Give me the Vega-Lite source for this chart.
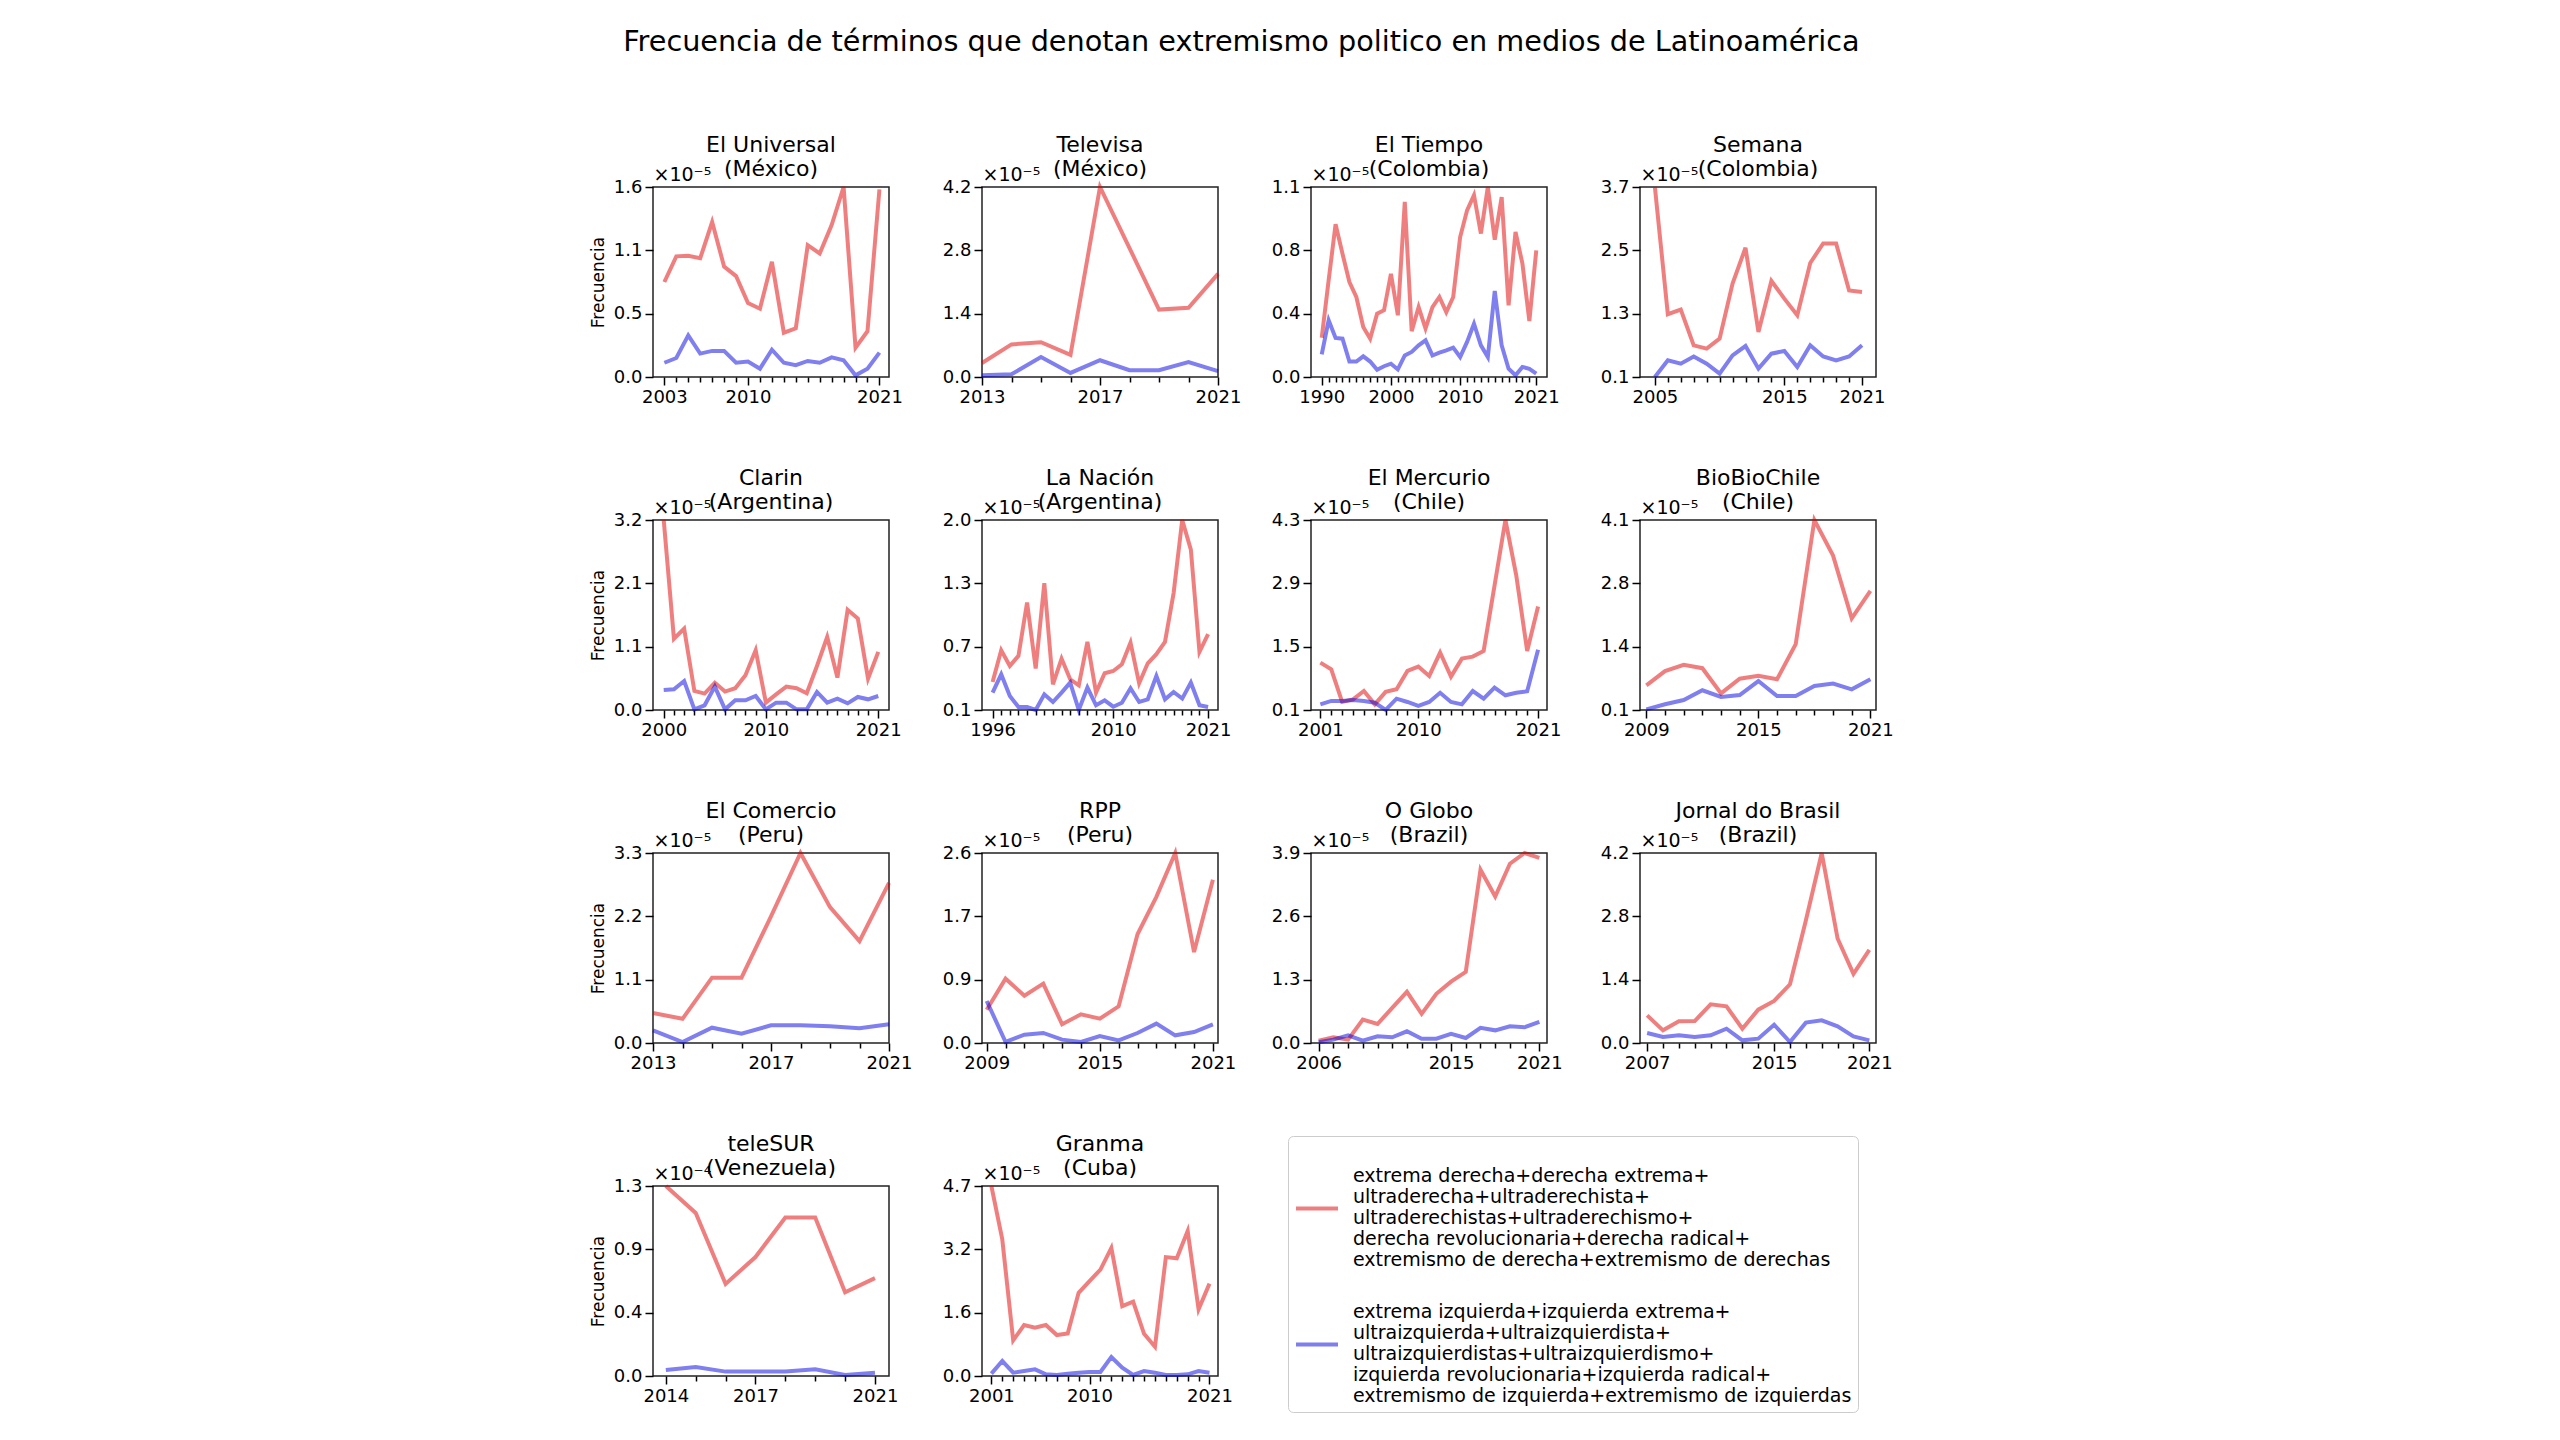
{
"$schema": "https://vega.github.io/schema/vega-lite/v6.json",
"padding": {"left": 588, "top": 27, "right": 0, "bottom": 0},
"title": {"text": "Frecuencia de términos que denotan extremismo politico en medios de Latinoamérica", "fontSize": 28.7, "fontWeight": "normal", "anchor": "middle", "offset": 77, "dx": 0},
"bounds": "flush",
"columns": 4,
"spacing": {"row": 143, "column": 93},
"datasets": {
"eu": [
{"serie":"derecha","anio":2003,"valor":0.80},{"serie":"derecha","anio":2004,"valor":1.016},{"serie":"derecha","anio":2005,"valor":1.02},{"serie":"derecha","anio":2006,"valor":1.00},{"serie":"derecha","anio":2007,"valor":1.305},{"serie":"derecha","anio":2008,"valor":0.93},{"serie":"derecha","anio":2009,"valor":0.85},{"serie":"derecha","anio":2010,"valor":0.623},{"serie":"derecha","anio":2011,"valor":0.575},{"serie":"derecha","anio":2012,"valor":0.97},{"serie":"derecha","anio":2013,"valor":0.373},{"serie":"derecha","anio":2014,"valor":0.41},{"serie":"derecha","anio":2015,"valor":1.11},{"serie":"derecha","anio":2016,"valor":1.04},{"serie":"derecha","anio":2017,"valor":1.28},{"serie":"derecha","anio":2018,"valor":1.6},{"serie":"derecha","anio":2019,"valor":0.247},{"serie":"derecha","anio":2020,"valor":0.385},{"serie":"derecha","anio":2021,"valor":1.58},
{"serie":"izquierda","anio":2003,"valor":0.12},{"serie":"izquierda","anio":2004,"valor":0.16},{"serie":"izquierda","anio":2005,"valor":0.35},{"serie":"izquierda","anio":2006,"valor":0.197},{"serie":"izquierda","anio":2007,"valor":0.22},{"serie":"izquierda","anio":2008,"valor":0.22},{"serie":"izquierda","anio":2009,"valor":0.12},{"serie":"izquierda","anio":2010,"valor":0.13},{"serie":"izquierda","anio":2011,"valor":0.07},{"serie":"izquierda","anio":2012,"valor":0.23},{"serie":"izquierda","anio":2013,"valor":0.12},{"serie":"izquierda","anio":2014,"valor":0.10},{"serie":"izquierda","anio":2015,"valor":0.135},{"serie":"izquierda","anio":2016,"valor":0.12},{"serie":"izquierda","anio":2017,"valor":0.165},{"serie":"izquierda","anio":2018,"valor":0.14},{"serie":"izquierda","anio":2019,"valor":0.014},{"serie":"izquierda","anio":2020,"valor":0.07},{"serie":"izquierda","anio":2021,"valor":0.205}
],
"tv": [
{"serie":"derecha","anio":2013,"valor":0.31},{"serie":"derecha","anio":2014,"valor":0.72},{"serie":"derecha","anio":2015,"valor":0.77},{"serie":"derecha","anio":2016,"valor":0.49},{"serie":"derecha","anio":2017,"valor":4.2},{"serie":"derecha","anio":2018,"valor":2.85},{"serie":"derecha","anio":2019,"valor":1.49},{"serie":"derecha","anio":2020,"valor":1.53},{"serie":"derecha","anio":2021,"valor":2.28},
{"serie":"izquierda","anio":2013,"valor":0.04},{"serie":"izquierda","anio":2014,"valor":0.06},{"serie":"izquierda","anio":2015,"valor":0.44},{"serie":"izquierda","anio":2016,"valor":0.09},{"serie":"izquierda","anio":2017,"valor":0.37},{"serie":"izquierda","anio":2018,"valor":0.15},{"serie":"izquierda","anio":2019,"valor":0.15},{"serie":"izquierda","anio":2020,"valor":0.33},{"serie":"izquierda","anio":2021,"valor":0.13}
],
"et": [
{"serie":"derecha","anio":1990,"valor":0.234},{"serie":"derecha","anio":1991,"valor":0.575},{"serie":"derecha","anio":1992,"valor":0.908},{"serie":"derecha","anio":1993,"valor":0.733},{"serie":"derecha","anio":1994,"valor":0.565},{"serie":"derecha","anio":1995,"valor":0.476},{"serie":"derecha","anio":1996,"valor":0.298},{"serie":"derecha","anio":1997,"valor":0.228},{"serie":"derecha","anio":1998,"valor":0.377},{"serie":"derecha","anio":1999,"valor":0.397},{"serie":"derecha","anio":2000,"valor":0.614},{"serie":"derecha","anio":2001,"valor":0.367},{"serie":"derecha","anio":2002,"valor":1.041},{"serie":"derecha","anio":2003,"valor":0.273},{"serie":"derecha","anio":2004,"valor":0.416},{"serie":"derecha","anio":2005,"valor":0.288},{"serie":"derecha","anio":2006,"valor":0.416},{"serie":"derecha","anio":2007,"valor":0.476},{"serie":"derecha","anio":2008,"valor":0.386},{"serie":"derecha","anio":2009,"valor":0.476},{"serie":"derecha","anio":2010,"valor":0.832},{"serie":"derecha","anio":2011,"valor":0.991},{"serie":"derecha","anio":2012,"valor":1.081},{"serie":"derecha","anio":2013,"valor":0.853},{"serie":"derecha","anio":2014,"valor":1.13},{"serie":"derecha","anio":2015,"valor":0.817},{"serie":"derecha","anio":2016,"valor":1.07},{"serie":"derecha","anio":2017,"valor":0.426},{"serie":"derecha","anio":2018,"valor":0.863},{"serie":"derecha","anio":2019,"valor":0.674},{"serie":"derecha","anio":2020,"valor":0.333},{"serie":"derecha","anio":2021,"valor":0.753},
{"serie":"izquierda","anio":1990,"valor":0.135},{"serie":"izquierda","anio":1991,"valor":0.337},{"serie":"izquierda","anio":1992,"valor":0.232},{"serie":"izquierda","anio":1993,"valor":0.228},{"serie":"izquierda","anio":1994,"valor":0.092},{"serie":"izquierda","anio":1995,"valor":0.092},{"serie":"izquierda","anio":1996,"valor":0.123},{"serie":"izquierda","anio":1997,"valor":0.092},{"serie":"izquierda","anio":1998,"valor":0.043},{"serie":"izquierda","anio":1999,"valor":0.064},{"serie":"izquierda","anio":2000,"valor":0.079},{"serie":"izquierda","anio":2001,"valor":0.045},{"serie":"izquierda","anio":2002,"valor":0.128},{"serie":"izquierda","anio":2003,"valor":0.149},{"serie":"izquierda","anio":2004,"valor":0.188},{"serie":"izquierda","anio":2005,"valor":0.218},{"serie":"izquierda","anio":2006,"valor":0.128},{"serie":"izquierda","anio":2007,"valor":0.145},{"serie":"izquierda","anio":2008,"valor":0.158},{"serie":"izquierda","anio":2009,"valor":0.175},{"serie":"izquierda","anio":2010,"valor":0.119},{"serie":"izquierda","anio":2011,"valor":0.209},{"serie":"izquierda","anio":2012,"valor":0.317},{"serie":"izquierda","anio":2013,"valor":0.188},{"serie":"izquierda","anio":2014,"valor":0.119},{"serie":"izquierda","anio":2015,"valor":0.512},{"serie":"izquierda","anio":2016,"valor":0.188},{"serie":"izquierda","anio":2017,"valor":0.049},{"serie":"izquierda","anio":2018,"valor":0.01},{"serie":"izquierda","anio":2019,"valor":0.06},{"serie":"izquierda","anio":2020,"valor":0.049},{"serie":"izquierda","anio":2021,"valor":0.02}
],
"se": [
{"serie":"derecha","anio":2005,"valor":3.7},{"serie":"derecha","anio":2006,"valor":1.29},{"serie":"derecha","anio":2007,"valor":1.376},{"serie":"derecha","anio":2008,"valor":0.70},{"serie":"derecha","anio":2009,"valor":0.637},{"serie":"derecha","anio":2010,"valor":0.826},{"serie":"derecha","anio":2011,"valor":1.87},{"serie":"derecha","anio":2012,"valor":2.55},{"serie":"derecha","anio":2013,"valor":0.953},{"serie":"derecha","anio":2014,"valor":1.92},{"serie":"derecha","anio":2015,"valor":1.585},{"serie":"derecha","anio":2016,"valor":1.27},{"serie":"derecha","anio":2017,"valor":2.26},{"serie":"derecha","anio":2018,"valor":2.63},{"serie":"derecha","anio":2019,"valor":2.63},{"serie":"derecha","anio":2020,"valor":1.74},{"serie":"derecha","anio":2021,"valor":1.71},
{"serie":"izquierda","anio":2005,"valor":0.1},{"serie":"izquierda","anio":2006,"valor":0.416},{"serie":"izquierda","anio":2007,"valor":0.353},{"serie":"izquierda","anio":2008,"valor":0.49},{"serie":"izquierda","anio":2009,"valor":0.353},{"serie":"izquierda","anio":2010,"valor":0.163},{"serie":"izquierda","anio":2011,"valor":0.51},{"serie":"izquierda","anio":2012,"valor":0.687},{"serie":"izquierda","anio":2013,"valor":0.258},{"serie":"izquierda","anio":2014,"valor":0.542},{"serie":"izquierda","anio":2015,"valor":0.593},{"serie":"izquierda","anio":2016,"valor":0.29},{"serie":"izquierda","anio":2017,"valor":0.70},{"serie":"izquierda","anio":2018,"valor":0.49},{"serie":"izquierda","anio":2019,"valor":0.416},{"serie":"izquierda","anio":2020,"valor":0.49},{"serie":"izquierda","anio":2021,"valor":0.70}
],
"cl": [
{"serie":"derecha","anio":2000,"valor":3.2},{"serie":"derecha","anio":2001,"valor":1.20},{"serie":"derecha","anio":2002,"valor":1.37},{"serie":"derecha","anio":2003,"valor":0.32},{"serie":"derecha","anio":2004,"valor":0.276},{"serie":"derecha","anio":2005,"valor":0.46},{"serie":"derecha","anio":2006,"valor":0.31},{"serie":"derecha","anio":2007,"valor":0.366},{"serie":"derecha","anio":2008,"valor":0.585},{"serie":"derecha","anio":2009,"valor":1.007},{"serie":"derecha","anio":2010,"valor":0.124},{"serie":"derecha","anio":2011,"valor":0.264},{"serie":"derecha","anio":2012,"valor":0.394},{"serie":"derecha","anio":2013,"valor":0.366},{"serie":"derecha","anio":2014,"valor":0.281},{"serie":"derecha","anio":2015,"valor":0.742},{"serie":"derecha","anio":2016,"valor":1.23},{"serie":"derecha","anio":2017,"valor":0.546},{"serie":"derecha","anio":2018,"valor":1.687},{"serie":"derecha","anio":2019,"valor":1.54},{"serie":"derecha","anio":2020,"valor":0.529},{"serie":"derecha","anio":2021,"valor":0.979},
{"serie":"izquierda","anio":2000,"valor":0.337},{"serie":"izquierda","anio":2001,"valor":0.349},{"serie":"izquierda","anio":2002,"valor":0.489},{"serie":"izquierda","anio":2003,"valor":0.011},{"serie":"izquierda","anio":2004,"valor":0.079},{"serie":"izquierda","anio":2005,"valor":0.394},{"serie":"izquierda","anio":2006,"valor":0.011},{"serie":"izquierda","anio":2007,"valor":0.163},{"serie":"izquierda","anio":2008,"valor":0.163},{"serie":"izquierda","anio":2009,"valor":0.236},{"serie":"izquierda","anio":2010,"valor":0.011},{"serie":"izquierda","anio":2011,"valor":0.124},{"serie":"izquierda","anio":2012,"valor":0.124},{"serie":"izquierda","anio":2013,"valor":0.011},{"serie":"izquierda","anio":2014,"valor":0.011},{"serie":"izquierda","anio":2015,"valor":0.304},{"serie":"izquierda","anio":2016,"valor":0.124},{"serie":"izquierda","anio":2017,"valor":0.191},{"serie":"izquierda","anio":2018,"valor":0.112},{"serie":"izquierda","anio":2019,"valor":0.219},{"serie":"izquierda","anio":2020,"valor":0.18},{"serie":"izquierda","anio":2021,"valor":0.236}
],
"ln": [
{"serie":"derecha","anio":1996,"valor":0.36},{"serie":"derecha","anio":1997,"valor":0.678},{"serie":"derecha","anio":1998,"valor":0.521},{"serie":"derecha","anio":1999,"valor":0.621},{"serie":"derecha","anio":2000,"valor":1.155},{"serie":"derecha","anio":2001,"valor":0.494},{"serie":"derecha","anio":2002,"valor":1.349},{"serie":"derecha","anio":2003,"valor":0.337},{"serie":"derecha","anio":2004,"valor":0.594},{"serie":"derecha","anio":2005,"valor":0.387},{"serie":"derecha","anio":2006,"valor":0.327},{"serie":"derecha","anio":2007,"valor":0.761},{"serie":"derecha","anio":2008,"valor":0.254},{"serie":"derecha","anio":2009,"valor":0.447},{"serie":"derecha","anio":2010,"valor":0.47},{"serie":"derecha","anio":2011,"valor":0.537},{"serie":"derecha","anio":2012,"valor":0.754},{"serie":"derecha","anio":2013,"valor":0.347},{"serie":"derecha","anio":2014,"valor":0.547},{"serie":"derecha","anio":2015,"valor":0.638},{"serie":"derecha","anio":2016,"valor":0.761},{"serie":"derecha","anio":2017,"valor":1.249},{"serie":"derecha","anio":2018,"valor":1.98},{"serie":"derecha","anio":2019,"valor":1.683},{"serie":"derecha","anio":2020,"valor":0.661},{"serie":"derecha","anio":2021,"valor":0.838},
{"serie":"izquierda","anio":1996,"valor":0.254},{"serie":"izquierda","anio":1997,"valor":0.437},{"serie":"izquierda","anio":1998,"valor":0.22},{"serie":"izquierda","anio":1999,"valor":0.11},{"serie":"izquierda","anio":2000,"valor":0.11},{"serie":"izquierda","anio":2001,"valor":0.08},{"serie":"izquierda","anio":2002,"valor":0.237},{"serie":"izquierda","anio":2003,"valor":0.16},{"serie":"izquierda","anio":2004,"valor":0.254},{"serie":"izquierda","anio":2005,"valor":0.354},{"serie":"izquierda","anio":2006,"valor":0.08},{"serie":"izquierda","anio":2007,"valor":0.304},{"serie":"izquierda","anio":2008,"valor":0.127},{"serie":"izquierda","anio":2009,"valor":0.177},{"serie":"izquierda","anio":2010,"valor":0.113},{"serie":"izquierda","anio":2011,"valor":0.153},{"serie":"izquierda","anio":2012,"valor":0.297},{"serie":"izquierda","anio":2013,"valor":0.16},{"serie":"izquierda","anio":2014,"valor":0.187},{"serie":"izquierda","anio":2015,"valor":0.42},{"serie":"izquierda","anio":2016,"valor":0.187},{"serie":"izquierda","anio":2017,"valor":0.26},{"serie":"izquierda","anio":2018,"valor":0.194},{"serie":"izquierda","anio":2019,"valor":0.354},{"serie":"izquierda","anio":2020,"valor":0.127},{"serie":"izquierda","anio":2021,"valor":0.11}
],
"em": [
{"serie":"derecha","anio":2001,"valor":1.148},{"serie":"derecha","anio":2002,"valor":1.0},{"serie":"derecha","anio":2003,"valor":0.277},{"serie":"derecha","anio":2004,"valor":0.336},{"serie":"derecha","anio":2005,"valor":0.52},{"serie":"derecha","anio":2006,"valor":0.225},{"serie":"derecha","anio":2007,"valor":0.5},{"serie":"derecha","anio":2008,"valor":0.558},{"serie":"derecha","anio":2009,"valor":0.963},{"serie":"derecha","anio":2010,"valor":1.06},{"serie":"derecha","anio":2011,"valor":0.853},{"serie":"derecha","anio":2012,"valor":1.37},{"serie":"derecha","anio":2013,"valor":0.838},{"serie":"derecha","anio":2014,"valor":1.236},{"serie":"derecha","anio":2015,"valor":1.28},{"serie":"derecha","anio":2016,"valor":1.406},{"serie":"derecha","anio":2017,"valor":2.85},{"serie":"derecha","anio":2018,"valor":4.3},{"serie":"derecha","anio":2019,"valor":3.07},{"serie":"derecha","anio":2020,"valor":1.406},{"serie":"derecha","anio":2021,"valor":2.39},
{"serie":"izquierda","anio":2001,"valor":0.225},{"serie":"izquierda","anio":2002,"valor":0.3},{"serie":"izquierda","anio":2003,"valor":0.3},{"serie":"izquierda","anio":2004,"valor":0.32},{"serie":"izquierda","anio":2005,"valor":0.3},{"serie":"izquierda","anio":2006,"valor":0.26},{"serie":"izquierda","anio":2007,"valor":0.1},{"serie":"izquierda","anio":2008,"valor":0.35},{"serie":"izquierda","anio":2009,"valor":0.277},{"serie":"izquierda","anio":2010,"valor":0.19},{"serie":"izquierda","anio":2011,"valor":0.277},{"serie":"izquierda","anio":2012,"valor":0.48},{"serie":"izquierda","anio":2013,"valor":0.277},{"serie":"izquierda","anio":2014,"valor":0.225},{"serie":"izquierda","anio":2015,"valor":0.52},{"serie":"izquierda","anio":2016,"valor":0.35},{"serie":"izquierda","anio":2017,"valor":0.594},{"serie":"izquierda","anio":2018,"valor":0.425},{"serie":"izquierda","anio":2019,"valor":0.48},{"serie":"izquierda","anio":2020,"valor":0.513},{"serie":"izquierda","anio":2021,"valor":1.43}
],
"bb": [
{"serie":"derecha","anio":2009,"valor":0.62},{"serie":"derecha","anio":2010,"valor":0.92},{"serie":"derecha","anio":2011,"valor":1.05},{"serie":"derecha","anio":2012,"valor":0.98},{"serie":"derecha","anio":2013,"valor":0.45},{"serie":"derecha","anio":2014,"valor":0.76},{"serie":"derecha","anio":2015,"valor":0.82},{"serie":"derecha","anio":2016,"valor":0.747},{"serie":"derecha","anio":2017,"valor":1.485},{"serie":"derecha","anio":2018,"valor":4.1},{"serie":"derecha","anio":2019,"valor":3.35},{"serie":"derecha","anio":2020,"valor":2.03},{"serie":"derecha","anio":2021,"valor":2.61},
{"serie":"izquierda","anio":2009,"valor":0.114},{"serie":"izquierda","anio":2010,"valor":0.22},{"serie":"izquierda","anio":2011,"valor":0.31},{"serie":"izquierda","anio":2012,"valor":0.515},{"serie":"izquierda","anio":2013,"valor":0.374},{"serie":"izquierda","anio":2014,"valor":0.416},{"serie":"izquierda","anio":2015,"valor":0.71},{"serie":"izquierda","anio":2016,"valor":0.395},{"serie":"izquierda","anio":2017,"valor":0.395},{"serie":"izquierda","anio":2018,"valor":0.606},{"serie":"izquierda","anio":2019,"valor":0.655},{"serie":"izquierda","anio":2020,"valor":0.536},{"serie":"izquierda","anio":2021,"valor":0.747}
],
"ec": [
{"serie":"derecha","anio":2013,"valor":0.52},{"serie":"derecha","anio":2014,"valor":0.42},{"serie":"derecha","anio":2015,"valor":1.135},{"serie":"derecha","anio":2016,"valor":1.135},{"serie":"derecha","anio":2017,"valor":2.2},{"serie":"derecha","anio":2018,"valor":3.3},{"serie":"derecha","anio":2019,"valor":2.36},{"serie":"derecha","anio":2020,"valor":1.77},{"serie":"derecha","anio":2021,"valor":2.78},
{"serie":"izquierda","anio":2013,"valor":0.22},{"serie":"izquierda","anio":2014,"valor":0.017},{"serie":"izquierda","anio":2015,"valor":0.266},{"serie":"izquierda","anio":2016,"valor":0.162},{"serie":"izquierda","anio":2017,"valor":0.307},{"serie":"izquierda","anio":2018,"valor":0.307},{"serie":"izquierda","anio":2019,"valor":0.29},{"serie":"izquierda","anio":2020,"valor":0.255},{"serie":"izquierda","anio":2021,"valor":0.324}
],
"rpp": [
{"serie":"derecha","anio":2009,"valor":0.456},{"serie":"derecha","anio":2010,"valor":0.88},{"serie":"derecha","anio":2011,"valor":0.648},{"serie":"derecha","anio":2012,"valor":0.812},{"serie":"derecha","anio":2013,"valor":0.255},{"serie":"derecha","anio":2014,"valor":0.392},{"serie":"derecha","anio":2015,"valor":0.333},{"serie":"derecha","anio":2016,"valor":0.502},{"serie":"derecha","anio":2017,"valor":1.487},{"serie":"derecha","anio":2018,"valor":2.0},{"serie":"derecha","anio":2019,"valor":2.6},{"serie":"derecha","anio":2020,"valor":1.245},{"serie":"derecha","anio":2021,"valor":2.235},
{"serie":"izquierda","anio":2009,"valor":0.575},{"serie":"izquierda","anio":2010,"valor":0.014},{"serie":"izquierda","anio":2011,"valor":0.114},{"serie":"izquierda","anio":2012,"valor":0.137},{"serie":"izquierda","anio":2013,"valor":0.046},{"serie":"izquierda","anio":2014,"valor":0.014},{"serie":"izquierda","anio":2015,"valor":0.096},{"serie":"izquierda","anio":2016,"valor":0.036},{"serie":"izquierda","anio":2017,"valor":0.137},{"serie":"izquierda","anio":2018,"valor":0.265},{"serie":"izquierda","anio":2019,"valor":0.105},{"serie":"izquierda","anio":2020,"valor":0.15},{"serie":"izquierda","anio":2021,"valor":0.255}
],
"og": [
{"serie":"derecha","anio":2006,"valor":0.048},{"serie":"derecha","anio":2007,"valor":0.117},{"serie":"derecha","anio":2008,"valor":0.069},{"serie":"derecha","anio":2009,"valor":0.48},{"serie":"derecha","anio":2010,"valor":0.39},{"serie":"derecha","anio":2011,"valor":0.72},{"serie":"derecha","anio":2012,"valor":1.05},{"serie":"derecha","anio":2013,"valor":0.598},{"serie":"derecha","anio":2014,"valor":1.01},{"serie":"derecha","anio":2015,"valor":1.26},{"serie":"derecha","anio":2016,"valor":1.46},{"serie":"derecha","anio":2017,"valor":3.556},{"serie":"derecha","anio":2018,"valor":3.006},{"serie":"derecha","anio":2019,"valor":3.68},{"serie":"derecha","anio":2020,"valor":3.9},{"serie":"derecha","anio":2021,"valor":3.8},
{"serie":"izquierda","anio":2006,"valor":0.014},{"serie":"izquierda","anio":2007,"valor":0.069},{"serie":"izquierda","anio":2008,"valor":0.158},{"serie":"izquierda","anio":2009,"valor":0.048},{"serie":"izquierda","anio":2010,"valor":0.138},{"serie":"izquierda","anio":2011,"valor":0.117},{"serie":"izquierda","anio":2012,"valor":0.24},{"serie":"izquierda","anio":2013,"valor":0.089},{"serie":"izquierda","anio":2014,"valor":0.089},{"serie":"izquierda","anio":2015,"valor":0.186},{"serie":"izquierda","anio":2016,"valor":0.103},{"serie":"izquierda","anio":2017,"valor":0.31},{"serie":"izquierda","anio":2018,"valor":0.26},{"serie":"izquierda","anio":2019,"valor":0.344},{"serie":"izquierda","anio":2020,"valor":0.323},{"serie":"izquierda","anio":2021,"valor":0.433}
],
"jb": [
{"serie":"derecha","anio":2007,"valor":0.61},{"serie":"derecha","anio":2008,"valor":0.28},{"serie":"derecha","anio":2009,"valor":0.48},{"serie":"derecha","anio":2010,"valor":0.486},{"serie":"derecha","anio":2011,"valor":0.855},{"serie":"derecha","anio":2012,"valor":0.81},{"serie":"derecha","anio":2013,"valor":0.317},{"serie":"derecha","anio":2014,"valor":0.737},{"serie":"derecha","anio":2015,"valor":0.93},{"serie":"derecha","anio":2016,"valor":1.297},{"serie":"derecha","anio":2017,"valor":2.71},{"serie":"derecha","anio":2018,"valor":4.2},{"serie":"derecha","anio":2019,"valor":2.31},{"serie":"derecha","anio":2020,"valor":1.53},{"serie":"derecha","anio":2021,"valor":2.06},
{"serie":"izquierda","anio":2007,"valor":0.22},{"serie":"izquierda","anio":2008,"valor":0.133},{"serie":"izquierda","anio":2009,"valor":0.17},{"serie":"izquierda","anio":2010,"valor":0.133},{"serie":"izquierda","anio":2011,"valor":0.17},{"serie":"izquierda","anio":2012,"valor":0.317},{"serie":"izquierda","anio":2013,"valor":0.059},{"serie":"izquierda","anio":2014,"valor":0.096},{"serie":"izquierda","anio":2015,"valor":0.405},{"serie":"izquierda","anio":2016,"valor":0.022},{"serie":"izquierda","anio":2017,"valor":0.45},{"serie":"izquierda","anio":2018,"valor":0.5},{"serie":"izquierda","anio":2019,"valor":0.368},{"serie":"izquierda","anio":2020,"valor":0.147},{"serie":"izquierda","anio":2021,"valor":0.059}
],
"ts": [
{"serie":"derecha","anio":2014,"valor":1.3},{"serie":"derecha","anio":2015,"valor":1.116},{"serie":"derecha","anio":2016,"valor":0.63},{"serie":"derecha","anio":2017,"valor":0.814},{"serie":"derecha","anio":2018,"valor":1.084},{"serie":"derecha","anio":2019,"valor":1.084},{"serie":"derecha","anio":2020,"valor":0.573},{"serie":"derecha","anio":2021,"valor":0.67},
{"serie":"izquierda","anio":2014,"valor":0.041},{"serie":"izquierda","anio":2015,"valor":0.062},{"serie":"izquierda","anio":2016,"valor":0.03},{"serie":"izquierda","anio":2017,"valor":0.03},{"serie":"izquierda","anio":2018,"valor":0.03},{"serie":"izquierda","anio":2019,"valor":0.046},{"serie":"izquierda","anio":2020,"valor":0.007},{"serie":"izquierda","anio":2021,"valor":0.023}
],
"gr": [
{"serie":"derecha","anio":2001,"valor":4.73},{"serie":"derecha","anio":2002,"valor":3.4},{"serie":"derecha","anio":2003,"valor":0.887},{"serie":"derecha","anio":2004,"valor":1.27},{"serie":"derecha","anio":2005,"valor":1.2},{"serie":"derecha","anio":2006,"valor":1.27},{"serie":"derecha","anio":2007,"valor":1.02},{"serie":"derecha","anio":2008,"valor":1.06},{"serie":"derecha","anio":2009,"valor":2.07},{"serie":"derecha","anio":2010,"valor":2.36},{"serie":"derecha","anio":2011,"valor":2.65},{"serie":"derecha","anio":2012,"valor":3.19},{"serie":"derecha","anio":2013,"valor":1.74},{"serie":"derecha","anio":2014,"valor":1.85},{"serie":"derecha","anio":2015,"valor":1.05},{"serie":"derecha","anio":2016,"valor":0.73},{"serie":"derecha","anio":2017,"valor":2.96},{"serie":"derecha","anio":2018,"valor":2.93},{"serie":"derecha","anio":2019,"valor":3.61},{"serie":"derecha","anio":2020,"valor":1.66},{"serie":"derecha","anio":2021,"valor":2.3},
{"serie":"izquierda","anio":2001,"valor":0.058},{"serie":"izquierda","anio":2002,"valor":0.373},{"serie":"izquierda","anio":2003,"valor":0.083},{"serie":"izquierda","anio":2004,"valor":0.124},{"serie":"izquierda","anio":2005,"valor":0.166},{"serie":"izquierda","anio":2006,"valor":0.041},{"serie":"izquierda","anio":2007,"valor":0.025},{"serie":"izquierda","anio":2008,"valor":0.058},{"serie":"izquierda","anio":2009,"valor":0.083},{"serie":"izquierda","anio":2010,"valor":0.1},{"serie":"izquierda","anio":2011,"valor":0.1},{"serie":"izquierda","anio":2012,"valor":0.473},{"serie":"izquierda","anio":2013,"valor":0.207},{"serie":"izquierda","anio":2014,"valor":0.025},{"serie":"izquierda","anio":2015,"valor":0.124},{"serie":"izquierda","anio":2016,"valor":0.083},{"serie":"izquierda","anio":2017,"valor":0.025},{"serie":"izquierda","anio":2018,"valor":0.025},{"serie":"izquierda","anio":2019,"valor":0.041},{"serie":"izquierda","anio":2020,"valor":0.124},{"serie":"izquierda","anio":2021,"valor":0.083}
]
},
"concat": [
{"data":{"name":"eu"},"width":236,"height":190,"title":{"text":["El Universal","(México)"]},
 "layer":[
  {"transform":[{"filter":"datum.serie == 'derecha'"}],"mark":{"type":"line"},
   "encoding":{
    "x":{"field":"anio","type":"quantitative","scale":{"domain":[2002.05,2021.8],"nice":false,"zero":false},
     "axis":{"title":null,"format":"d","values":[2003,2004,2005,2006,2007,2008,2009,2010,2011,2012,2013,2014,2015,2016,2017,2018,2019,2020,2021],
      "labelExpr":"indexof([2003,2010,2021], datum.value) >= 0 ? datum.label : ''",
      "tickSize":{"condition":{"test":"indexof([2003,2010,2021], datum.value) >= 0","value":8},"value":5}}},
    "y":{"field":"valor","type":"quantitative","scale":{"domain":[0,1.6],"nice":false,"zero":false},
     "axis":{"title":"Frecuencia","format":".1f","values":[0,0.5333,1.0667,1.6]}},
    "color":{"field":"serie","type":"nominal","scale":{"domain":["derecha","izquierda"],"range":["#e00000","#0000e0"]},
     "legend":{"orient":"none","legendX":635,"legendY":949,"title":" ",
      "labelExpr":"datum.label == 'derecha' ? ['extrema derecha+derecha extrema+', 'ultraderecha+ultraderechista+', 'ultraderechistas+ultraderechismo+', 'derecha revolucionaria+derecha radical+', 'extremismo de derecha+extremismo de derechas'] : ['extrema izquierda+izquierda extrema+', 'ultraizquierda+ultraizquierdista+', 'ultraizquierdistas+ultraizquierdismo+', 'izquierda revolucionaria+izquierda radical+', 'extremismo de izquierda+extremismo de izquierdas']"}}}},
  {"transform":[{"filter":"datum.serie == 'izquierda'"}],"mark":{"type":"line"},
   "encoding":{
    "x":{"field":"anio","type":"quantitative","scale":{"domain":[2002.05,2021.8],"nice":false,"zero":false},"axis":{"orient":"top","title":"×10⁻⁵","labels":false,"ticks":false}},
    "y":{"field":"valor","type":"quantitative","scale":{"domain":[0,1.6],"nice":false,"zero":false},"axis":{"title":"Frecuencia","format":".1f","values":[0,0.5333,1.0667,1.6]}},
    "color":{"field":"serie","type":"nominal","scale":{"domain":["derecha","izquierda"],"range":["#e00000","#0000e0"]},"legend":null}}}
 ],"resolve":{"axis":{"x":"independent"}}},
{"data":{"name":"tv"},"width":236,"height":190,"title":{"text":["Televisa","(México)"]},
 "layer":[
  {"transform":[{"filter":"datum.serie == 'derecha'"}],"mark":{"type":"line"},
   "encoding":{
    "x":{"field":"anio","type":"quantitative","scale":{"domain":[2013,2021],"nice":false,"zero":false},
     "axis":{"title":null,"format":"d","values":[2013,2014,2015,2016,2017,2018,2019,2020,2021],
      "labelExpr":"indexof([2013,2017,2021], datum.value) >= 0 ? datum.label : ''",
      "tickSize":{"condition":{"test":"indexof([2013,2017,2021], datum.value) >= 0","value":8},"value":5}}},
    "y":{"field":"valor","type":"quantitative","scale":{"domain":[0,4.2],"nice":false,"zero":false},
     "axis":{"title":null,"format":".1f","values":[0,1.4,2.8,4.2]}},
    "color":{"field":"serie","type":"nominal","scale":{"domain":["derecha","izquierda"],"range":["#e00000","#0000e0"]},"legend":null}}},
  {"transform":[{"filter":"datum.serie == 'izquierda'"}],"mark":{"type":"line"},
   "encoding":{
    "x":{"field":"anio","type":"quantitative","scale":{"domain":[2013,2021],"nice":false,"zero":false},"axis":{"orient":"top","title":"×10⁻⁵","labels":false,"ticks":false}},
    "y":{"field":"valor","type":"quantitative","scale":{"domain":[0,4.2],"nice":false,"zero":false},"axis":{"title":null,"format":".1f","values":[0,1.4,2.8,4.2]}},
    "color":{"field":"serie","type":"nominal","scale":{"domain":["derecha","izquierda"],"range":["#e00000","#0000e0"]},"legend":null}}}
 ],"resolve":{"axis":{"x":"independent"}}},
{"data":{"name":"et"},"width":236,"height":190,"title":{"text":["El Tiempo","(Colombia)"]},
 "layer":[
  {"transform":[{"filter":"datum.serie == 'derecha'"}],"mark":{"type":"line"},
   "encoding":{
    "x":{"field":"anio","type":"quantitative","scale":{"domain":[1988.45,2022.55],"nice":false,"zero":false},
     "axis":{"title":null,"format":"d","values":[1990,1991,1992,1993,1994,1995,1996,1997,1998,1999,2000,2001,2002,2003,2004,2005,2006,2007,2008,2009,2010,2011,2012,2013,2014,2015,2016,2017,2018,2019,2020,2021],
      "labelExpr":"indexof([1990,2000,2010,2021], datum.value) >= 0 ? datum.label : ''",
      "tickSize":{"condition":{"test":"indexof([1990,2000,2010,2021], datum.value) >= 0","value":8},"value":5}}},
    "y":{"field":"valor","type":"quantitative","scale":{"domain":[0,1.13],"nice":false,"zero":false},
     "axis":{"title":null,"format":".1f","values":[0,0.3767,0.7533,1.13]}},
    "color":{"field":"serie","type":"nominal","scale":{"domain":["derecha","izquierda"],"range":["#e00000","#0000e0"]},"legend":null}}},
  {"transform":[{"filter":"datum.serie == 'izquierda'"}],"mark":{"type":"line"},
   "encoding":{
    "x":{"field":"anio","type":"quantitative","scale":{"domain":[1988.45,2022.55],"nice":false,"zero":false},"axis":{"orient":"top","title":"×10⁻⁵","labels":false,"ticks":false}},
    "y":{"field":"valor","type":"quantitative","scale":{"domain":[0,1.13],"nice":false,"zero":false},"axis":{"title":null,"format":".1f","values":[0,0.3767,0.7533,1.13]}},
    "color":{"field":"serie","type":"nominal","scale":{"domain":["derecha","izquierda"],"range":["#e00000","#0000e0"]},"legend":null}}}
 ],"resolve":{"axis":{"x":"independent"}}},
{"data":{"name":"se"},"width":236,"height":190,"title":{"text":["Semana","(Colombia)"]},
 "layer":[
  {"transform":[{"filter":"datum.serie == 'derecha'"}],"mark":{"type":"line"},
   "encoding":{
    "x":{"field":"anio","type":"quantitative","scale":{"domain":[2003.85,2022.08],"nice":false,"zero":false},
     "axis":{"title":null,"format":"d","values":[2005,2006,2007,2008,2009,2010,2011,2012,2013,2014,2015,2016,2017,2018,2019,2020,2021],
      "labelExpr":"indexof([2005,2015,2021], datum.value) >= 0 ? datum.label : ''",
      "tickSize":{"condition":{"test":"indexof([2005,2015,2021], datum.value) >= 0","value":8},"value":5}}},
    "y":{"field":"valor","type":"quantitative","scale":{"domain":[0.1,3.7],"nice":false,"zero":false},
     "axis":{"title":null,"format":".1f","values":[0.1,1.3,2.5,3.7]}},
    "color":{"field":"serie","type":"nominal","scale":{"domain":["derecha","izquierda"],"range":["#e00000","#0000e0"]},"legend":null}}},
  {"transform":[{"filter":"datum.serie == 'izquierda'"}],"mark":{"type":"line"},
   "encoding":{
    "x":{"field":"anio","type":"quantitative","scale":{"domain":[2003.85,2022.08],"nice":false,"zero":false},"axis":{"orient":"top","title":"×10⁻⁵","labels":false,"ticks":false}},
    "y":{"field":"valor","type":"quantitative","scale":{"domain":[0.1,3.7],"nice":false,"zero":false},"axis":{"title":null,"format":".1f","values":[0.1,1.3,2.5,3.7]}},
    "color":{"field":"serie","type":"nominal","scale":{"domain":["derecha","izquierda"],"range":["#e00000","#0000e0"]},"legend":null}}}
 ],"resolve":{"axis":{"x":"independent"}}},
{"data":{"name":"cl"},"width":236,"height":190,"title":{"text":["Clarin","(Argentina)"]},
 "layer":[
  {"transform":[{"filter":"datum.serie == 'derecha'"}],"mark":{"type":"line"},
   "encoding":{
    "x":{"field":"anio","type":"quantitative","scale":{"domain":[1998.95,2022.05],"nice":false,"zero":false},
     "axis":{"title":null,"format":"d","values":[2000,2001,2002,2003,2004,2005,2006,2007,2008,2009,2010,2011,2012,2013,2014,2015,2016,2017,2018,2019,2020,2021],
      "labelExpr":"indexof([2000,2010,2021], datum.value) >= 0 ? datum.label : ''",
      "tickSize":{"condition":{"test":"indexof([2000,2010,2021], datum.value) >= 0","value":8},"value":5}}},
    "y":{"field":"valor","type":"quantitative","scale":{"domain":[0,3.2],"nice":false,"zero":false},
     "axis":{"title":"Frecuencia","format":".1f","values":[0,1.0667,2.1333,3.2]}},
    "color":{"field":"serie","type":"nominal","scale":{"domain":["derecha","izquierda"],"range":["#e00000","#0000e0"]},"legend":null}}},
  {"transform":[{"filter":"datum.serie == 'izquierda'"}],"mark":{"type":"line"},
   "encoding":{
    "x":{"field":"anio","type":"quantitative","scale":{"domain":[1998.95,2022.05],"nice":false,"zero":false},"axis":{"orient":"top","title":"×10⁻⁵","labels":false,"ticks":false}},
    "y":{"field":"valor","type":"quantitative","scale":{"domain":[0,3.2],"nice":false,"zero":false},"axis":{"title":"Frecuencia","format":".1f","values":[0,1.0667,2.1333,3.2]}},
    "color":{"field":"serie","type":"nominal","scale":{"domain":["derecha","izquierda"],"range":["#e00000","#0000e0"]},"legend":null}}}
 ],"resolve":{"axis":{"x":"independent"}}},
{"data":{"name":"ln"},"width":236,"height":190,"title":{"text":["La Nación","(Argentina)"]},
 "layer":[
  {"transform":[{"filter":"datum.serie == 'derecha'"}],"mark":{"type":"line"},
   "encoding":{
    "x":{"field":"anio","type":"quantitative","scale":{"domain":[1994.77,2022.15],"nice":false,"zero":false},
     "axis":{"title":null,"format":"d","values":[1996,1997,1998,1999,2000,2001,2002,2003,2004,2005,2006,2007,2008,2009,2010,2011,2012,2013,2014,2015,2016,2017,2018,2019,2020,2021],
      "labelExpr":"indexof([1996,2010,2021], datum.value) >= 0 ? datum.label : ''",
      "tickSize":{"condition":{"test":"indexof([1996,2010,2021], datum.value) >= 0","value":8},"value":5}}},
    "y":{"field":"valor","type":"quantitative","scale":{"domain":[0.08,1.98],"nice":false,"zero":false},
     "axis":{"title":null,"format":".1f","values":[0.08,0.7133,1.3467,1.98]}},
    "color":{"field":"serie","type":"nominal","scale":{"domain":["derecha","izquierda"],"range":["#e00000","#0000e0"]},"legend":null}}},
  {"transform":[{"filter":"datum.serie == 'izquierda'"}],"mark":{"type":"line"},
   "encoding":{
    "x":{"field":"anio","type":"quantitative","scale":{"domain":[1994.77,2022.15],"nice":false,"zero":false},"axis":{"orient":"top","title":"×10⁻⁵","labels":false,"ticks":false}},
    "y":{"field":"valor","type":"quantitative","scale":{"domain":[0.08,1.98],"nice":false,"zero":false},"axis":{"title":null,"format":".1f","values":[0.08,0.7133,1.3467,1.98]}},
    "color":{"field":"serie","type":"nominal","scale":{"domain":["derecha","izquierda"],"range":["#e00000","#0000e0"]},"legend":null}}}
 ],"resolve":{"axis":{"x":"independent"}}},
{"data":{"name":"em"},"width":236,"height":190,"title":{"text":["El Mercurio","(Chile)"]},
 "layer":[
  {"transform":[{"filter":"datum.serie == 'derecha'"}],"mark":{"type":"line"},
   "encoding":{
    "x":{"field":"anio","type":"quantitative","scale":{"domain":[2000.14,2021.82],"nice":false,"zero":false},
     "axis":{"title":null,"format":"d","values":[2001,2002,2003,2004,2005,2006,2007,2008,2009,2010,2011,2012,2013,2014,2015,2016,2017,2018,2019,2020,2021],
      "labelExpr":"indexof([2001,2010,2021], datum.value) >= 0 ? datum.label : ''",
      "tickSize":{"condition":{"test":"indexof([2001,2010,2021], datum.value) >= 0","value":8},"value":5}}},
    "y":{"field":"valor","type":"quantitative","scale":{"domain":[0.1,4.3],"nice":false,"zero":false},
     "axis":{"title":null,"format":".1f","values":[0.1,1.5,2.9,4.3]}},
    "color":{"field":"serie","type":"nominal","scale":{"domain":["derecha","izquierda"],"range":["#e00000","#0000e0"]},"legend":null}}},
  {"transform":[{"filter":"datum.serie == 'izquierda'"}],"mark":{"type":"line"},
   "encoding":{
    "x":{"field":"anio","type":"quantitative","scale":{"domain":[2000.14,2021.82],"nice":false,"zero":false},"axis":{"orient":"top","title":"×10⁻⁵","labels":false,"ticks":false}},
    "y":{"field":"valor","type":"quantitative","scale":{"domain":[0.1,4.3],"nice":false,"zero":false},"axis":{"title":null,"format":".1f","values":[0.1,1.5,2.9,4.3]}},
    "color":{"field":"serie","type":"nominal","scale":{"domain":["derecha","izquierda"],"range":["#e00000","#0000e0"]},"legend":null}}}
 ],"resolve":{"axis":{"x":"independent"}}},
{"data":{"name":"bb"},"width":236,"height":190,"title":{"text":["BioBioChile","(Chile)"]},
 "layer":[
  {"transform":[{"filter":"datum.serie == 'derecha'"}],"mark":{"type":"line"},
   "encoding":{
    "x":{"field":"anio","type":"quantitative","scale":{"domain":[2008.66,2021.3],"nice":false,"zero":false},
     "axis":{"title":null,"format":"d","values":[2009,2010,2011,2012,2013,2014,2015,2016,2017,2018,2019,2020,2021],
      "labelExpr":"indexof([2009,2015,2021], datum.value) >= 0 ? datum.label : ''",
      "tickSize":{"condition":{"test":"indexof([2009,2015,2021], datum.value) >= 0","value":8},"value":5}}},
    "y":{"field":"valor","type":"quantitative","scale":{"domain":[0.1,4.1],"nice":false,"zero":false},
     "axis":{"title":null,"format":".1f","values":[0.1,1.4333,2.7667,4.1]}},
    "color":{"field":"serie","type":"nominal","scale":{"domain":["derecha","izquierda"],"range":["#e00000","#0000e0"]},"legend":null}}},
  {"transform":[{"filter":"datum.serie == 'izquierda'"}],"mark":{"type":"line"},
   "encoding":{
    "x":{"field":"anio","type":"quantitative","scale":{"domain":[2008.66,2021.3],"nice":false,"zero":false},"axis":{"orient":"top","title":"×10⁻⁵","labels":false,"ticks":false}},
    "y":{"field":"valor","type":"quantitative","scale":{"domain":[0.1,4.1],"nice":false,"zero":false},"axis":{"title":null,"format":".1f","values":[0.1,1.4333,2.7667,4.1]}},
    "color":{"field":"serie","type":"nominal","scale":{"domain":["derecha","izquierda"],"range":["#e00000","#0000e0"]},"legend":null}}}
 ],"resolve":{"axis":{"x":"independent"}}},
{"data":{"name":"ec"},"width":236,"height":190,"title":{"text":["El Comercio","(Peru)"]},
 "layer":[
  {"transform":[{"filter":"datum.serie == 'derecha'"}],"mark":{"type":"line"},
   "encoding":{
    "x":{"field":"anio","type":"quantitative","scale":{"domain":[2013,2021],"nice":false,"zero":false},
     "axis":{"title":null,"format":"d","values":[2013,2014,2015,2016,2017,2018,2019,2020,2021],
      "labelExpr":"indexof([2013,2017,2021], datum.value) >= 0 ? datum.label : ''",
      "tickSize":{"condition":{"test":"indexof([2013,2017,2021], datum.value) >= 0","value":8},"value":5}}},
    "y":{"field":"valor","type":"quantitative","scale":{"domain":[0,3.3],"nice":false,"zero":false},
     "axis":{"title":"Frecuencia","format":".1f","values":[0,1.1,2.2,3.3]}},
    "color":{"field":"serie","type":"nominal","scale":{"domain":["derecha","izquierda"],"range":["#e00000","#0000e0"]},"legend":null}}},
  {"transform":[{"filter":"datum.serie == 'izquierda'"}],"mark":{"type":"line"},
   "encoding":{
    "x":{"field":"anio","type":"quantitative","scale":{"domain":[2013,2021],"nice":false,"zero":false},"axis":{"orient":"top","title":"×10⁻⁵","labels":false,"ticks":false}},
    "y":{"field":"valor","type":"quantitative","scale":{"domain":[0,3.3],"nice":false,"zero":false},"axis":{"title":"Frecuencia","format":".1f","values":[0,1.1,2.2,3.3]}},
    "color":{"field":"serie","type":"nominal","scale":{"domain":["derecha","izquierda"],"range":["#e00000","#0000e0"]},"legend":null}}}
 ],"resolve":{"axis":{"x":"independent"}}},
{"data":{"name":"rpp"},"width":236,"height":190,"title":{"text":["RPP","(Peru)"]},
 "layer":[
  {"transform":[{"filter":"datum.serie == 'derecha'"}],"mark":{"type":"line"},
   "encoding":{
    "x":{"field":"anio","type":"quantitative","scale":{"domain":[2008.75,2021.27],"nice":false,"zero":false},
     "axis":{"title":null,"format":"d","values":[2009,2010,2011,2012,2013,2014,2015,2016,2017,2018,2019,2020,2021],
      "labelExpr":"indexof([2009,2015,2021], datum.value) >= 0 ? datum.label : ''",
      "tickSize":{"condition":{"test":"indexof([2009,2015,2021], datum.value) >= 0","value":8},"value":5}}},
    "y":{"field":"valor","type":"quantitative","scale":{"domain":[0,2.6],"nice":false,"zero":false},
     "axis":{"title":null,"format":".1f","values":[0,0.8667,1.7333,2.6]}},
    "color":{"field":"serie","type":"nominal","scale":{"domain":["derecha","izquierda"],"range":["#e00000","#0000e0"]},"legend":null}}},
  {"transform":[{"filter":"datum.serie == 'izquierda'"}],"mark":{"type":"line"},
   "encoding":{
    "x":{"field":"anio","type":"quantitative","scale":{"domain":[2008.75,2021.27],"nice":false,"zero":false},"axis":{"orient":"top","title":"×10⁻⁵","labels":false,"ticks":false}},
    "y":{"field":"valor","type":"quantitative","scale":{"domain":[0,2.6],"nice":false,"zero":false},"axis":{"title":null,"format":".1f","values":[0,0.8667,1.7333,2.6]}},
    "color":{"field":"serie","type":"nominal","scale":{"domain":["derecha","izquierda"],"range":["#e00000","#0000e0"]},"legend":null}}}
 ],"resolve":{"axis":{"x":"independent"}}},
{"data":{"name":"og"},"width":236,"height":190,"title":{"text":["O Globo","(Brazil)"]},
 "layer":[
  {"transform":[{"filter":"datum.serie == 'derecha'"}],"mark":{"type":"line"},
   "encoding":{
    "x":{"field":"anio","type":"quantitative","scale":{"domain":[2005.48,2021.52],"nice":false,"zero":false},
     "axis":{"title":null,"format":"d","values":[2006,2007,2008,2009,2010,2011,2012,2013,2014,2015,2016,2017,2018,2019,2020,2021],
      "labelExpr":"indexof([2006,2015,2021], datum.value) >= 0 ? datum.label : ''",
      "tickSize":{"condition":{"test":"indexof([2006,2015,2021], datum.value) >= 0","value":8},"value":5}}},
    "y":{"field":"valor","type":"quantitative","scale":{"domain":[0,3.9],"nice":false,"zero":false},
     "axis":{"title":null,"format":".1f","values":[0,1.3,2.6,3.9]}},
    "color":{"field":"serie","type":"nominal","scale":{"domain":["derecha","izquierda"],"range":["#e00000","#0000e0"]},"legend":null}}},
  {"transform":[{"filter":"datum.serie == 'izquierda'"}],"mark":{"type":"line"},
   "encoding":{
    "x":{"field":"anio","type":"quantitative","scale":{"domain":[2005.48,2021.52],"nice":false,"zero":false},"axis":{"orient":"top","title":"×10⁻⁵","labels":false,"ticks":false}},
    "y":{"field":"valor","type":"quantitative","scale":{"domain":[0,3.9],"nice":false,"zero":false},"axis":{"title":null,"format":".1f","values":[0,1.3,2.6,3.9]}},
    "color":{"field":"serie","type":"nominal","scale":{"domain":["derecha","izquierda"],"range":["#e00000","#0000e0"]},"legend":null}}}
 ],"resolve":{"axis":{"x":"independent"}}},
{"data":{"name":"jb"},"width":236,"height":190,"title":{"text":["Jornal do Brasil","(Brazil)"]},
 "layer":[
  {"transform":[{"filter":"datum.serie == 'derecha'"}],"mark":{"type":"line"},
   "encoding":{
    "x":{"field":"anio","type":"quantitative","scale":{"domain":[2006.55,2021.42],"nice":false,"zero":false},
     "axis":{"title":null,"format":"d","values":[2007,2008,2009,2010,2011,2012,2013,2014,2015,2016,2017,2018,2019,2020,2021],
      "labelExpr":"indexof([2007,2015,2021], datum.value) >= 0 ? datum.label : ''",
      "tickSize":{"condition":{"test":"indexof([2007,2015,2021], datum.value) >= 0","value":8},"value":5}}},
    "y":{"field":"valor","type":"quantitative","scale":{"domain":[0,4.2],"nice":false,"zero":false},
     "axis":{"title":null,"format":".1f","values":[0,1.4,2.8,4.2]}},
    "color":{"field":"serie","type":"nominal","scale":{"domain":["derecha","izquierda"],"range":["#e00000","#0000e0"]},"legend":null}}},
  {"transform":[{"filter":"datum.serie == 'izquierda'"}],"mark":{"type":"line"},
   "encoding":{
    "x":{"field":"anio","type":"quantitative","scale":{"domain":[2006.55,2021.42],"nice":false,"zero":false},"axis":{"orient":"top","title":"×10⁻⁵","labels":false,"ticks":false}},
    "y":{"field":"valor","type":"quantitative","scale":{"domain":[0,4.2],"nice":false,"zero":false},"axis":{"title":null,"format":".1f","values":[0,1.4,2.8,4.2]}},
    "color":{"field":"serie","type":"nominal","scale":{"domain":["derecha","izquierda"],"range":["#e00000","#0000e0"]},"legend":null}}}
 ],"resolve":{"axis":{"x":"independent"}}},
{"data":{"name":"ts"},"width":236,"height":190,"title":{"text":["teleSUR","(Venezuela)"]},
 "layer":[
  {"transform":[{"filter":"datum.serie == 'derecha'"}],"mark":{"type":"line"},
   "encoding":{
    "x":{"field":"anio","type":"quantitative","scale":{"domain":[2013.57,2021.47],"nice":false,"zero":false},
     "axis":{"title":null,"format":"d","values":[2014,2015,2016,2017,2018,2019,2020,2021],
      "labelExpr":"indexof([2014,2017,2021], datum.value) >= 0 ? datum.label : ''",
      "tickSize":{"condition":{"test":"indexof([2014,2017,2021], datum.value) >= 0","value":8},"value":5}}},
    "y":{"field":"valor","type":"quantitative","scale":{"domain":[0,1.3],"nice":false,"zero":false},
     "axis":{"title":"Frecuencia","format":".1f","values":[0,0.4333,0.8667,1.3]}},
    "color":{"field":"serie","type":"nominal","scale":{"domain":["derecha","izquierda"],"range":["#e00000","#0000e0"]},"legend":null}}},
  {"transform":[{"filter":"datum.serie == 'izquierda'"}],"mark":{"type":"line"},
   "encoding":{
    "x":{"field":"anio","type":"quantitative","scale":{"domain":[2013.57,2021.47],"nice":false,"zero":false},"axis":{"orient":"top","title":"×10⁻⁴","labels":false,"ticks":false}},
    "y":{"field":"valor","type":"quantitative","scale":{"domain":[0,1.3],"nice":false,"zero":false},"axis":{"title":"Frecuencia","format":".1f","values":[0,0.4333,0.8667,1.3]}},
    "color":{"field":"serie","type":"nominal","scale":{"domain":["derecha","izquierda"],"range":["#e00000","#0000e0"]},"legend":null}}}
 ],"resolve":{"axis":{"x":"independent"}}},
{"data":{"name":"gr"},"width":236,"height":190,"title":{"text":["Granma","(Cuba)"]},
 "layer":[
  {"transform":[{"filter":"datum.serie == 'derecha'"}],"mark":{"type":"line"},
   "encoding":{
    "x":{"field":"anio","type":"quantitative","scale":{"domain":[2000.14,2021.78],"nice":false,"zero":false},
     "axis":{"title":null,"format":"d","values":[2001,2002,2003,2004,2005,2006,2007,2008,2009,2010,2011,2012,2013,2014,2015,2016,2017,2018,2019,2020,2021],
      "labelExpr":"indexof([2001,2010,2021], datum.value) >= 0 ? datum.label : ''",
      "tickSize":{"condition":{"test":"indexof([2001,2010,2021], datum.value) >= 0","value":8},"value":5}}},
    "y":{"field":"valor","type":"quantitative","scale":{"domain":[0,4.73],"nice":false,"zero":false},
     "axis":{"title":null,"format":".1f","values":[0,1.5767,3.1533,4.73]}},
    "color":{"field":"serie","type":"nominal","scale":{"domain":["derecha","izquierda"],"range":["#e00000","#0000e0"]},"legend":null}}},
  {"transform":[{"filter":"datum.serie == 'izquierda'"}],"mark":{"type":"line"},
   "encoding":{
    "x":{"field":"anio","type":"quantitative","scale":{"domain":[2000.14,2021.78],"nice":false,"zero":false},"axis":{"orient":"top","title":"×10⁻⁵","labels":false,"ticks":false}},
    "y":{"field":"valor","type":"quantitative","scale":{"domain":[0,4.73],"nice":false,"zero":false},"axis":{"title":null,"format":".1f","values":[0,1.5767,3.1533,4.73]}},
    "color":{"field":"serie","type":"nominal","scale":{"domain":["derecha","izquierda"],"range":["#e00000","#0000e0"]},"legend":null}}}
 ],"resolve":{"axis":{"x":"independent"}}}
],
"config": {
 "font": "DejaVu Sans",
 "view": {"stroke": "#222222", "strokeWidth": 1.5},
 "line": {"strokeWidth": 4, "opacity": 0.5},
 "axis": {"grid": false, "domain": false, "tickColor": "#000000", "tickWidth": 1.5, "labelColor": "#000000", "labelFontSize": 18, "labelPadding": 3, "labelOverlap": false, "labelFlush": false, "titleColor": "#000000", "titleFontWeight": "normal", "titleFontSize": 17},
 "axisY": {"tickSize": 8, "titlePadding": 6},
 "axisTop": {"titleFontSize": 19, "titleAnchor": "start", "titleAlign": "left", "titlePadding": 3, "titleBaseline": "bottom"},
 "title": {"fontSize": 22, "fontWeight": "normal", "color": "#000000", "offset": -16, "anchor": "middle"},
 "legend": {"labelFontSize": 19, "labelColor": "#000000", "labelLimit": 800, "symbolType": "M-1,1.55H1", "symbolSize": 1764, "symbolStrokeWidth": 4, "symbolOpacity": 0.5, "labelOffset": 13, "rowPadding": 19, "padding": 6, "titleFontSize": 8, "titlePadding": 3, "strokeColor": "#cccccc", "fillColor": "#ffffff", "cornerRadius": 5}
}
}
